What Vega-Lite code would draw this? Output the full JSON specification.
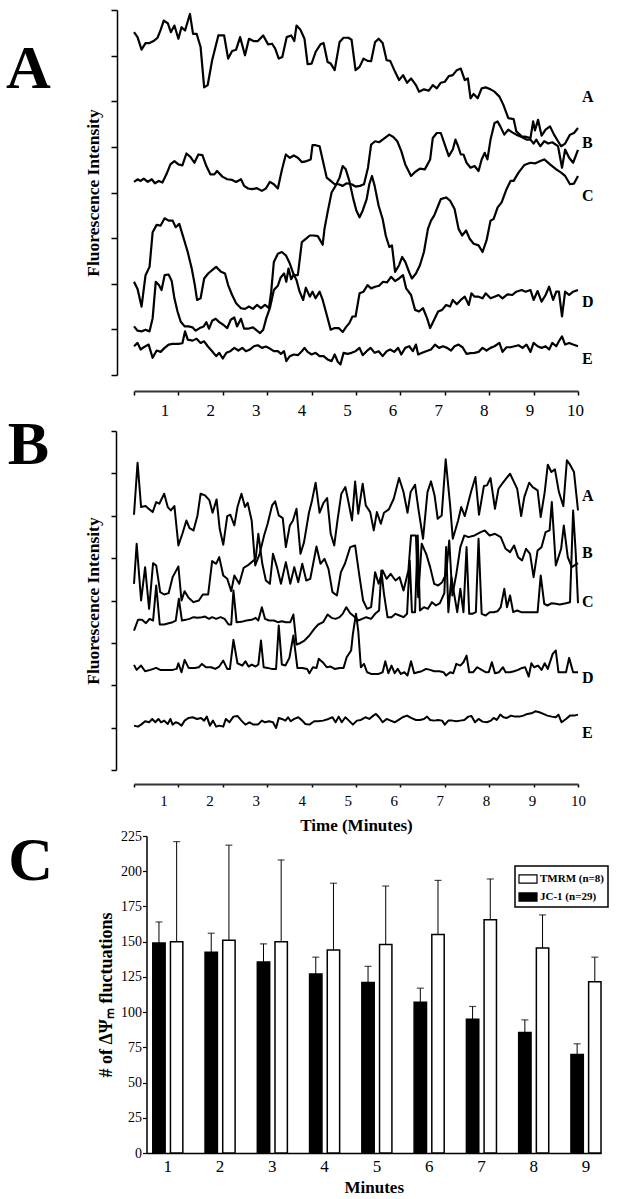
{
"$schema":"https://vega.github.io/schema/vega-lite/v6.json",
"background":"white",
"padding":{"left":6,"top":9,"right":0,"bottom":0},
"config":{"view":{"stroke":null},"font":"Liberation Serif",
 "axis":{"grid":false,"domainColor":"black","tickColor":"black","labelColor":"black","titleColor":"black","labelFont":"Liberation Serif","titleFont":"Liberation Serif"},
 "legend":{"strokeWidth":1.5}},
"datasets":{
"pa":[
{"s":"A","t":0,"v":1037},{"s":"A","t":0.08,"v":1022},{"s":"A","t":0.17,"v":984},{"s":"A","t":0.26,"v":1004},{"s":"A","t":0.35,"v":1004},{"s":"A","t":0.44,"v":1010},{"s":"A","t":0.53,"v":1020},{"s":"A","t":0.6,"v":1044},{"s":"A","t":0.67,"v":1072},{"s":"A","t":0.76,"v":1064},{"s":"A","t":0.83,"v":1037},{"s":"A","t":0.91,"v":1057},{"s":"A","t":1.0,"v":1017},{"s":"A","t":1.07,"v":1052},{"s":"A","t":1.15,"v":1042},{"s":"A","t":1.26,"v":1092},{"s":"A","t":1.33,"v":1032},{"s":"A","t":1.41,"v":1032},{"s":"A","t":1.5,"v":992},{"s":"A","t":1.58,"v":870},{"s":"A","t":1.66,"v":877},{"s":"A","t":1.76,"v":952},{"s":"A","t":1.9,"v":1027},{"s":"A","t":2.03,"v":1027},{"s":"A","t":2.12,"v":957},{"s":"A","t":2.21,"v":980},{"s":"A","t":2.3,"v":984},{"s":"A","t":2.39,"v":1022},{"s":"A","t":2.5,"v":967},{"s":"A","t":2.59,"v":1017},{"s":"A","t":2.69,"v":1010},{"s":"A","t":2.79,"v":1010},{"s":"A","t":2.91,"v":1027},{"s":"A","t":3.02,"v":1000},{"s":"A","t":3.11,"v":1002},{"s":"A","t":3.18,"v":987},{"s":"A","t":3.26,"v":957},{"s":"A","t":3.34,"v":962},{"s":"A","t":3.44,"v":1022},{"s":"A","t":3.54,"v":1027},{"s":"A","t":3.61,"v":1010},{"s":"A","t":3.66,"v":1057},{"s":"A","t":3.75,"v":1044},{"s":"A","t":3.84,"v":1017},{"s":"A","t":3.91,"v":940},{"s":"A","t":4.0,"v":942},{"s":"A","t":4.09,"v":977},{"s":"A","t":4.2,"v":1000},{"s":"A","t":4.27,"v":1004},{"s":"A","t":4.36,"v":947},{"s":"A","t":4.43,"v":942},{"s":"A","t":4.52,"v":922},{"s":"A","t":4.63,"v":1007},{"s":"A","t":4.72,"v":1020},{"s":"A","t":4.83,"v":1020},{"s":"A","t":4.9,"v":1014},{"s":"A","t":4.99,"v":922},{"s":"A","t":5.08,"v":932},{"s":"A","t":5.17,"v":957},{"s":"A","t":5.26,"v":950},{"s":"A","t":5.34,"v":949},{"s":"A","t":5.43,"v":1007},{"s":"A","t":5.51,"v":1017},{"s":"A","t":5.6,"v":1004},{"s":"A","t":5.69,"v":952},{"s":"A","t":5.77,"v":950},{"s":"A","t":5.88,"v":917},{"s":"A","t":5.97,"v":892},{"s":"A","t":6.06,"v":907},{"s":"A","t":6.15,"v":884},{"s":"A","t":6.24,"v":897},{"s":"A","t":6.35,"v":877},{"s":"A","t":6.42,"v":857},{"s":"A","t":6.53,"v":864},{"s":"A","t":6.64,"v":860},{"s":"A","t":6.73,"v":877},{"s":"A","t":6.82,"v":867},{"s":"A","t":6.91,"v":884},{"s":"A","t":7.0,"v":887},{"s":"A","t":7.09,"v":904},{"s":"A","t":7.18,"v":907},{"s":"A","t":7.27,"v":922},{"s":"A","t":7.36,"v":927},{"s":"A","t":7.45,"v":892},{"s":"A","t":7.52,"v":897},{"s":"A","t":7.58,"v":837},{"s":"A","t":7.65,"v":850},{"s":"A","t":7.74,"v":837},{"s":"A","t":7.83,"v":867},{"s":"A","t":7.92,"v":870},{"s":"A","t":8.03,"v":864},{"s":"A","t":8.12,"v":857},{"s":"A","t":8.23,"v":842},{"s":"A","t":8.32,"v":817},{"s":"A","t":8.43,"v":777},{"s":"A","t":8.55,"v":774},{"s":"A","t":8.61,"v":737},{"s":"A","t":8.73,"v":722},{"s":"A","t":8.84,"v":720},{"s":"A","t":8.93,"v":717},{"s":"A","t":8.99,"v":767},{"s":"A","t":9.03,"v":740},{"s":"A","t":9.1,"v":772},{"s":"A","t":9.18,"v":724},{"s":"A","t":9.27,"v":742},{"s":"A","t":9.37,"v":752},{"s":"A","t":9.46,"v":727},{"s":"A","t":9.55,"v":707},{"s":"A","t":9.62,"v":692},{"s":"A","t":9.71,"v":700},{"s":"A","t":9.82,"v":727},{"s":"A","t":9.91,"v":732},{"s":"A","t":10,"v":747},
{"s":"B","t":0,"v":584},{"s":"B","t":0.08,"v":592},{"s":"B","t":0.15,"v":587},{"s":"B","t":0.22,"v":594},{"s":"B","t":0.31,"v":584},{"s":"B","t":0.4,"v":592},{"s":"B","t":0.47,"v":580},{"s":"B","t":0.56,"v":587},{"s":"B","t":0.64,"v":582},{"s":"B","t":0.73,"v":607},{"s":"B","t":0.82,"v":637},{"s":"B","t":0.91,"v":647},{"s":"B","t":1.0,"v":637},{"s":"B","t":1.09,"v":634},{"s":"B","t":1.18,"v":670},{"s":"B","t":1.27,"v":660},{"s":"B","t":1.36,"v":642},{"s":"B","t":1.45,"v":667},{"s":"B","t":1.54,"v":665},{"s":"B","t":1.63,"v":632},{"s":"B","t":1.72,"v":607},{"s":"B","t":1.81,"v":607},{"s":"B","t":1.87,"v":617},{"s":"B","t":1.99,"v":600},{"s":"B","t":2.1,"v":592},{"s":"B","t":2.21,"v":590},{"s":"B","t":2.3,"v":584},{"s":"B","t":2.41,"v":592},{"s":"B","t":2.48,"v":572},{"s":"B","t":2.57,"v":564},{"s":"B","t":2.66,"v":562},{"s":"B","t":2.77,"v":565},{"s":"B","t":2.88,"v":557},{"s":"B","t":2.97,"v":564},{"s":"B","t":3.06,"v":584},{"s":"B","t":3.15,"v":577},{"s":"B","t":3.24,"v":564},{"s":"B","t":3.33,"v":620},{"s":"B","t":3.42,"v":667},{"s":"B","t":3.51,"v":657},{"s":"B","t":3.6,"v":664},{"s":"B","t":3.69,"v":657},{"s":"B","t":3.78,"v":644},{"s":"B","t":3.89,"v":647},{"s":"B","t":3.98,"v":652},{"s":"B","t":4.02,"v":695},{"s":"B","t":4.09,"v":695},{"s":"B","t":4.18,"v":692},{"s":"B","t":4.25,"v":650},{"s":"B","t":4.34,"v":597},{"s":"B","t":4.43,"v":587},{"s":"B","t":4.52,"v":577},{"s":"B","t":4.61,"v":577},{"s":"B","t":4.7,"v":572},{"s":"B","t":4.79,"v":580},{"s":"B","t":4.9,"v":577},{"s":"B","t":4.99,"v":570},{"s":"B","t":5.09,"v":572},{"s":"B","t":5.18,"v":577},{"s":"B","t":5.27,"v":627},{"s":"B","t":5.34,"v":697},{"s":"B","t":5.43,"v":707},{"s":"B","t":5.52,"v":704},{"s":"B","t":5.6,"v":712},{"s":"B","t":5.75,"v":727},{"s":"B","t":5.84,"v":720},{"s":"B","t":5.93,"v":707},{"s":"B","t":6.02,"v":677},{"s":"B","t":6.11,"v":637},{"s":"B","t":6.24,"v":602},{"s":"B","t":6.33,"v":614},{"s":"B","t":6.44,"v":624},{"s":"B","t":6.55,"v":622},{"s":"B","t":6.67,"v":652},{"s":"B","t":6.73,"v":717},{"s":"B","t":6.82,"v":732},{"s":"B","t":6.91,"v":732},{"s":"B","t":7.0,"v":697},{"s":"B","t":7.09,"v":662},{"s":"B","t":7.18,"v":682},{"s":"B","t":7.24,"v":712},{"s":"B","t":7.3,"v":692},{"s":"B","t":7.36,"v":667},{"s":"B","t":7.42,"v":667},{"s":"B","t":7.49,"v":642},{"s":"B","t":7.58,"v":627},{"s":"B","t":7.67,"v":632},{"s":"B","t":7.76,"v":617},{"s":"B","t":7.83,"v":652},{"s":"B","t":7.9,"v":672},{"s":"B","t":7.96,"v":652},{"s":"B","t":8.03,"v":712},{"s":"B","t":8.12,"v":762},{"s":"B","t":8.19,"v":767},{"s":"B","t":8.25,"v":752},{"s":"B","t":8.34,"v":727},{"s":"B","t":8.43,"v":742},{"s":"B","t":8.52,"v":734},{"s":"B","t":8.61,"v":727},{"s":"B","t":8.73,"v":720},{"s":"B","t":8.84,"v":712},{"s":"B","t":8.93,"v":712},{"s":"B","t":9.0,"v":700},{"s":"B","t":9.06,"v":712},{"s":"B","t":9.15,"v":692},{"s":"B","t":9.24,"v":707},{"s":"B","t":9.33,"v":700},{"s":"B","t":9.42,"v":704},{"s":"B","t":9.55,"v":692},{"s":"B","t":9.64,"v":627},{"s":"B","t":9.71,"v":682},{"s":"B","t":9.8,"v":657},{"s":"B","t":9.89,"v":642},{"s":"B","t":10,"v":681},
{"s":"C","t":0,"v":282},{"s":"C","t":0.08,"v":260},{"s":"C","t":0.17,"v":207},{"s":"C","t":0.26,"v":302},{"s":"C","t":0.35,"v":327},{"s":"C","t":0.42,"v":432},{"s":"C","t":0.51,"v":454},{"s":"C","t":0.6,"v":452},{"s":"C","t":0.69,"v":474},{"s":"C","t":0.78,"v":467},{"s":"C","t":0.87,"v":467},{"s":"C","t":0.94,"v":447},{"s":"C","t":1.02,"v":457},{"s":"C","t":1.11,"v":417},{"s":"C","t":1.21,"v":372},{"s":"C","t":1.3,"v":322},{"s":"C","t":1.37,"v":272},{"s":"C","t":1.42,"v":227},{"s":"C","t":1.5,"v":232},{"s":"C","t":1.58,"v":292},{"s":"C","t":1.67,"v":307},{"s":"C","t":1.76,"v":317},{"s":"C","t":1.85,"v":327},{"s":"C","t":1.96,"v":312},{"s":"C","t":2.05,"v":307},{"s":"C","t":2.12,"v":272},{"s":"C","t":2.21,"v":242},{"s":"C","t":2.3,"v":217},{"s":"C","t":2.41,"v":202},{"s":"C","t":2.5,"v":200},{"s":"C","t":2.59,"v":207},{"s":"C","t":2.68,"v":200},{"s":"C","t":2.77,"v":212},{"s":"C","t":2.86,"v":202},{"s":"C","t":2.95,"v":212},{"s":"C","t":3.04,"v":202},{"s":"C","t":3.09,"v":252},{"s":"C","t":3.15,"v":342},{"s":"C","t":3.24,"v":367},{"s":"C","t":3.33,"v":372},{"s":"C","t":3.42,"v":362},{"s":"C","t":3.51,"v":337},{"s":"C","t":3.6,"v":302},{"s":"C","t":3.69,"v":302},{"s":"C","t":3.78,"v":402},{"s":"C","t":3.87,"v":412},{"s":"C","t":3.96,"v":422},{"s":"C","t":4.05,"v":422},{"s":"C","t":4.14,"v":420},{"s":"C","t":4.25,"v":394},{"s":"C","t":4.29,"v":442},{"s":"C","t":4.36,"v":492},{"s":"C","t":4.45,"v":552},{"s":"C","t":4.54,"v":572},{"s":"C","t":4.63,"v":597},{"s":"C","t":4.7,"v":632},{"s":"C","t":4.77,"v":622},{"s":"C","t":4.85,"v":587},{"s":"C","t":4.94,"v":532},{"s":"C","t":5.01,"v":497},{"s":"C","t":5.08,"v":477},{"s":"C","t":5.15,"v":497},{"s":"C","t":5.24,"v":532},{"s":"C","t":5.3,"v":577},{"s":"C","t":5.36,"v":602},{"s":"C","t":5.42,"v":572},{"s":"C","t":5.51,"v":512},{"s":"C","t":5.6,"v":472},{"s":"C","t":5.67,"v":422},{"s":"C","t":5.75,"v":387},{"s":"C","t":5.81,"v":392},{"s":"C","t":5.88,"v":312},{"s":"C","t":5.97,"v":332},{"s":"C","t":6.04,"v":357},{"s":"C","t":6.11,"v":342},{"s":"C","t":6.2,"v":310},{"s":"C","t":6.26,"v":292},{"s":"C","t":6.35,"v":307},{"s":"C","t":6.44,"v":332},{"s":"C","t":6.53,"v":372},{"s":"C","t":6.62,"v":442},{"s":"C","t":6.69,"v":467},{"s":"C","t":6.76,"v":482},{"s":"C","t":6.85,"v":512},{"s":"C","t":6.91,"v":532},{"s":"C","t":7.03,"v":537},{"s":"C","t":7.12,"v":527},{"s":"C","t":7.22,"v":502},{"s":"C","t":7.31,"v":442},{"s":"C","t":7.39,"v":422},{"s":"C","t":7.48,"v":437},{"s":"C","t":7.56,"v":412},{"s":"C","t":7.65,"v":397},{"s":"C","t":7.76,"v":392},{"s":"C","t":7.85,"v":372},{"s":"C","t":7.94,"v":407},{"s":"C","t":8.03,"v":467},{"s":"C","t":8.1,"v":472},{"s":"C","t":8.19,"v":507},{"s":"C","t":8.28,"v":522},{"s":"C","t":8.39,"v":562},{"s":"C","t":8.48,"v":587},{"s":"C","t":8.55,"v":587},{"s":"C","t":8.66,"v":612},{"s":"C","t":8.79,"v":635},{"s":"C","t":8.93,"v":642},{"s":"C","t":9.03,"v":640},{"s":"C","t":9.15,"v":647},{"s":"C","t":9.24,"v":652},{"s":"C","t":9.37,"v":637},{"s":"C","t":9.51,"v":622},{"s":"C","t":9.62,"v":612},{"s":"C","t":9.71,"v":602},{"s":"C","t":9.82,"v":577},{"s":"C","t":9.91,"v":579},{"s":"C","t":10,"v":602},
{"s":"D","t":0,"v":147},{"s":"D","t":0.08,"v":134},{"s":"D","t":0.17,"v":132},{"s":"D","t":0.26,"v":137},{"s":"D","t":0.35,"v":132},{"s":"D","t":0.42,"v":172},{"s":"D","t":0.49,"v":282},{"s":"D","t":0.56,"v":272},{"s":"D","t":0.62,"v":257},{"s":"D","t":0.69,"v":302},{"s":"D","t":0.78,"v":304},{"s":"D","t":0.85,"v":284},{"s":"D","t":0.91,"v":232},{"s":"D","t":0.98,"v":192},{"s":"D","t":1.05,"v":162},{"s":"D","t":1.14,"v":147},{"s":"D","t":1.23,"v":147},{"s":"D","t":1.32,"v":144},{"s":"D","t":1.39,"v":134},{"s":"D","t":1.48,"v":142},{"s":"D","t":1.57,"v":147},{"s":"D","t":1.63,"v":160},{"s":"D","t":1.69,"v":140},{"s":"D","t":1.76,"v":164},{"s":"D","t":1.84,"v":170},{"s":"D","t":1.92,"v":160},{"s":"D","t":2.01,"v":152},{"s":"D","t":2.1,"v":142},{"s":"D","t":2.18,"v":167},{"s":"D","t":2.26,"v":174},{"s":"D","t":2.32,"v":147},{"s":"D","t":2.41,"v":170},{"s":"D","t":2.48,"v":140},{"s":"D","t":2.57,"v":140},{"s":"D","t":2.68,"v":144},{"s":"D","t":2.77,"v":134},{"s":"D","t":2.84,"v":127},{"s":"D","t":2.91,"v":137},{"s":"D","t":2.98,"v":172},{"s":"D","t":3.06,"v":202},{"s":"D","t":3.15,"v":257},{"s":"D","t":3.24,"v":270},{"s":"D","t":3.3,"v":294},{"s":"D","t":3.38,"v":307},{"s":"D","t":3.43,"v":282},{"s":"D","t":3.48,"v":322},{"s":"D","t":3.54,"v":290},{"s":"D","t":3.6,"v":304},{"s":"D","t":3.66,"v":287},{"s":"D","t":3.73,"v":252},{"s":"D","t":3.81,"v":227},{"s":"D","t":3.87,"v":264},{"s":"D","t":3.96,"v":237},{"s":"D","t":4.02,"v":252},{"s":"D","t":4.09,"v":232},{"s":"D","t":4.18,"v":252},{"s":"D","t":4.25,"v":227},{"s":"D","t":4.34,"v":182},{"s":"D","t":4.43,"v":137},{"s":"D","t":4.52,"v":142},{"s":"D","t":4.61,"v":142},{"s":"D","t":4.7,"v":130},{"s":"D","t":4.77,"v":144},{"s":"D","t":4.85,"v":157},{"s":"D","t":4.92,"v":177},{"s":"D","t":4.99,"v":177},{"s":"D","t":5.08,"v":247},{"s":"D","t":5.17,"v":252},{"s":"D","t":5.26,"v":272},{"s":"D","t":5.34,"v":262},{"s":"D","t":5.43,"v":267},{"s":"D","t":5.52,"v":270},{"s":"D","t":5.61,"v":282},{"s":"D","t":5.7,"v":280},{"s":"D","t":5.79,"v":297},{"s":"D","t":5.88,"v":284},{"s":"D","t":5.97,"v":292},{"s":"D","t":6.06,"v":302},{"s":"D","t":6.13,"v":262},{"s":"D","t":6.24,"v":242},{"s":"D","t":6.33,"v":197},{"s":"D","t":6.42,"v":192},{"s":"D","t":6.51,"v":202},{"s":"D","t":6.6,"v":172},{"s":"D","t":6.67,"v":142},{"s":"D","t":6.76,"v":167},{"s":"D","t":6.85,"v":192},{"s":"D","t":6.94,"v":197},{"s":"D","t":7.03,"v":212},{"s":"D","t":7.12,"v":207},{"s":"D","t":7.18,"v":227},{"s":"D","t":7.27,"v":214},{"s":"D","t":7.36,"v":227},{"s":"D","t":7.45,"v":237},{"s":"D","t":7.54,"v":212},{"s":"D","t":7.6,"v":247},{"s":"D","t":7.67,"v":237},{"s":"D","t":7.76,"v":237},{"s":"D","t":7.85,"v":232},{"s":"D","t":7.92,"v":247},{"s":"D","t":8.03,"v":232},{"s":"D","t":8.12,"v":237},{"s":"D","t":8.21,"v":242},{"s":"D","t":8.3,"v":232},{"s":"D","t":8.41,"v":244},{"s":"D","t":8.52,"v":242},{"s":"D","t":8.61,"v":252},{"s":"D","t":8.73,"v":257},{"s":"D","t":8.82,"v":252},{"s":"D","t":8.93,"v":257},{"s":"D","t":9.0,"v":227},{"s":"D","t":9.09,"v":254},{"s":"D","t":9.18,"v":222},{"s":"D","t":9.27,"v":242},{"s":"D","t":9.35,"v":267},{"s":"D","t":9.44,"v":227},{"s":"D","t":9.51,"v":252},{"s":"D","t":9.57,"v":252},{"s":"D","t":9.64,"v":177},{"s":"D","t":9.71,"v":252},{"s":"D","t":9.8,"v":242},{"s":"D","t":9.89,"v":252},{"s":"D","t":10,"v":257},
{"s":"E","t":0,"v":87},{"s":"E","t":0.08,"v":97},{"s":"E","t":0.15,"v":77},{"s":"E","t":0.22,"v":84},{"s":"E","t":0.33,"v":92},{"s":"E","t":0.42,"v":52},{"s":"E","t":0.51,"v":74},{"s":"E","t":0.6,"v":70},{"s":"E","t":0.69,"v":82},{"s":"E","t":0.78,"v":92},{"s":"E","t":0.87,"v":94},{"s":"E","t":1.0,"v":94},{"s":"E","t":1.09,"v":96},{"s":"E","t":1.15,"v":132},{"s":"E","t":1.21,"v":107},{"s":"E","t":1.32,"v":104},{"s":"E","t":1.41,"v":110},{"s":"E","t":1.5,"v":97},{"s":"E","t":1.58,"v":102},{"s":"E","t":1.66,"v":87},{"s":"E","t":1.76,"v":72},{"s":"E","t":1.85,"v":57},{"s":"E","t":1.92,"v":67},{"s":"E","t":2.0,"v":50},{"s":"E","t":2.08,"v":67},{"s":"E","t":2.17,"v":72},{"s":"E","t":2.26,"v":82},{"s":"E","t":2.35,"v":74},{"s":"E","t":2.44,"v":82},{"s":"E","t":2.52,"v":72},{"s":"E","t":2.61,"v":77},{"s":"E","t":2.7,"v":87},{"s":"E","t":2.79,"v":90},{"s":"E","t":2.88,"v":82},{"s":"E","t":2.97,"v":86},{"s":"E","t":3.06,"v":80},{"s":"E","t":3.15,"v":72},{"s":"E","t":3.24,"v":72},{"s":"E","t":3.31,"v":64},{"s":"E","t":3.38,"v":72},{"s":"E","t":3.43,"v":42},{"s":"E","t":3.51,"v":57},{"s":"E","t":3.6,"v":62},{"s":"E","t":3.69,"v":60},{"s":"E","t":3.78,"v":72},{"s":"E","t":3.84,"v":82},{"s":"E","t":3.91,"v":70},{"s":"E","t":4.0,"v":62},{"s":"E","t":4.09,"v":67},{"s":"E","t":4.18,"v":57},{"s":"E","t":4.27,"v":57},{"s":"E","t":4.36,"v":47},{"s":"E","t":4.45,"v":42},{"s":"E","t":4.52,"v":62},{"s":"E","t":4.59,"v":40},{"s":"E","t":4.65,"v":32},{"s":"E","t":4.72,"v":67},{"s":"E","t":4.81,"v":64},{"s":"E","t":4.9,"v":67},{"s":"E","t":4.99,"v":72},{"s":"E","t":5.08,"v":82},{"s":"E","t":5.15,"v":60},{"s":"E","t":5.24,"v":72},{"s":"E","t":5.33,"v":82},{"s":"E","t":5.42,"v":67},{"s":"E","t":5.51,"v":72},{"s":"E","t":5.6,"v":57},{"s":"E","t":5.69,"v":72},{"s":"E","t":5.77,"v":77},{"s":"E","t":5.86,"v":70},{"s":"E","t":5.95,"v":82},{"s":"E","t":6.02,"v":62},{"s":"E","t":6.11,"v":82},{"s":"E","t":6.2,"v":87},{"s":"E","t":6.28,"v":72},{"s":"E","t":6.35,"v":92},{"s":"E","t":6.4,"v":62},{"s":"E","t":6.49,"v":67},{"s":"E","t":6.58,"v":72},{"s":"E","t":6.69,"v":77},{"s":"E","t":6.78,"v":92},{"s":"E","t":6.87,"v":82},{"s":"E","t":6.96,"v":87},{"s":"E","t":7.05,"v":82},{"s":"E","t":7.14,"v":74},{"s":"E","t":7.22,"v":87},{"s":"E","t":7.31,"v":92},{"s":"E","t":7.4,"v":84},{"s":"E","t":7.49,"v":64},{"s":"E","t":7.58,"v":66},{"s":"E","t":7.67,"v":67},{"s":"E","t":7.76,"v":70},{"s":"E","t":7.85,"v":82},{"s":"E","t":7.94,"v":74},{"s":"E","t":8.03,"v":82},{"s":"E","t":8.12,"v":87},{"s":"E","t":8.23,"v":97},{"s":"E","t":8.3,"v":70},{"s":"E","t":8.39,"v":84},{"s":"E","t":8.48,"v":84},{"s":"E","t":8.57,"v":87},{"s":"E","t":8.66,"v":90},{"s":"E","t":8.75,"v":82},{"s":"E","t":8.84,"v":92},{"s":"E","t":8.93,"v":70},{"s":"E","t":9.0,"v":97},{"s":"E","t":9.09,"v":87},{"s":"E","t":9.18,"v":82},{"s":"E","t":9.27,"v":87},{"s":"E","t":9.35,"v":77},{"s":"E","t":9.42,"v":97},{"s":"E","t":9.51,"v":87},{"s":"E","t":9.57,"v":102},{"s":"E","t":9.64,"v":117},{"s":"E","t":9.71,"v":92},{"s":"E","t":9.8,"v":97},{"s":"E","t":9.89,"v":92},{"s":"E","t":10,"v":87}
],
"pb":[
{"s":"A","t":0,"v":765},{"s":"A","t":0.08,"v":921},{"s":"A","t":0.16,"v":788},{"s":"A","t":0.26,"v":791},{"s":"A","t":0.33,"v":783},{"s":"A","t":0.42,"v":773},{"s":"A","t":0.5,"v":803},{"s":"A","t":0.57,"v":798},{"s":"A","t":0.68,"v":828},{"s":"A","t":0.76,"v":788},{"s":"A","t":0.83,"v":778},{"s":"A","t":0.91,"v":791},{"s":"A","t":1.0,"v":673},{"s":"A","t":1.09,"v":708},{"s":"A","t":1.18,"v":748},{"s":"A","t":1.25,"v":725},{"s":"A","t":1.34,"v":718},{"s":"A","t":1.43,"v":763},{"s":"A","t":1.5,"v":828},{"s":"A","t":1.6,"v":823},{"s":"A","t":1.7,"v":808},{"s":"A","t":1.77,"v":771},{"s":"A","t":1.86,"v":811},{"s":"A","t":1.93,"v":723},{"s":"A","t":2.01,"v":675},{"s":"A","t":2.1,"v":761},{"s":"A","t":2.17,"v":765},{"s":"A","t":2.26,"v":733},{"s":"A","t":2.33,"v":788},{"s":"A","t":2.42,"v":828},{"s":"A","t":2.5,"v":788},{"s":"A","t":2.56,"v":801},{"s":"A","t":2.65,"v":748},{"s":"A","t":2.73,"v":613},{"s":"A","t":2.83,"v":648},{"s":"A","t":2.93,"v":703},{"s":"A","t":3.01,"v":738},{"s":"A","t":3.11,"v":793},{"s":"A","t":3.18,"v":805},{"s":"A","t":3.26,"v":763},{"s":"A","t":3.35,"v":755},{"s":"A","t":3.42,"v":668},{"s":"A","t":3.51,"v":733},{"s":"A","t":3.58,"v":748},{"s":"A","t":3.66,"v":783},{"s":"A","t":3.75,"v":648},{"s":"A","t":3.83,"v":683},{"s":"A","t":3.94,"v":771},{"s":"A","t":4.01,"v":808},{"s":"A","t":4.09,"v":861},{"s":"A","t":4.18,"v":771},{"s":"A","t":4.27,"v":801},{"s":"A","t":4.35,"v":815},{"s":"A","t":4.43,"v":708},{"s":"A","t":4.51,"v":673},{"s":"A","t":4.58,"v":745},{"s":"A","t":4.67,"v":828},{"s":"A","t":4.76,"v":848},{"s":"A","t":4.83,"v":803},{"s":"A","t":4.91,"v":748},{"s":"A","t":4.98,"v":865},{"s":"A","t":5.05,"v":768},{"s":"A","t":5.15,"v":858},{"s":"A","t":5.22,"v":793},{"s":"A","t":5.32,"v":773},{"s":"A","t":5.4,"v":718},{"s":"A","t":5.47,"v":773},{"s":"A","t":5.56,"v":738},{"s":"A","t":5.63,"v":771},{"s":"A","t":5.74,"v":781},{"s":"A","t":5.85,"v":813},{"s":"A","t":5.97,"v":875},{"s":"A","t":6.07,"v":833},{"s":"A","t":6.16,"v":771},{"s":"A","t":6.23,"v":833},{"s":"A","t":6.33,"v":855},{"s":"A","t":6.41,"v":778},{"s":"A","t":6.51,"v":693},{"s":"A","t":6.61,"v":833},{"s":"A","t":6.69,"v":865},{"s":"A","t":6.77,"v":823},{"s":"A","t":6.84,"v":753},{"s":"A","t":6.93,"v":763},{"s":"A","t":7.02,"v":931},{"s":"A","t":7.12,"v":793},{"s":"A","t":7.18,"v":693},{"s":"A","t":7.3,"v":748},{"s":"A","t":7.37,"v":788},{"s":"A","t":7.45,"v":761},{"s":"A","t":7.59,"v":833},{"s":"A","t":7.69,"v":878},{"s":"A","t":7.77,"v":765},{"s":"A","t":7.88,"v":851},{"s":"A","t":7.95,"v":853},{"s":"A","t":8.03,"v":875},{"s":"A","t":8.13,"v":783},{"s":"A","t":8.21,"v":843},{"s":"A","t":8.31,"v":861},{"s":"A","t":8.38,"v":873},{"s":"A","t":8.47,"v":888},{"s":"A","t":8.54,"v":868},{"s":"A","t":8.63,"v":843},{"s":"A","t":8.72,"v":761},{"s":"A","t":8.79,"v":818},{"s":"A","t":8.9,"v":861},{"s":"A","t":8.98,"v":848},{"s":"A","t":9.09,"v":838},{"s":"A","t":9.16,"v":758},{"s":"A","t":9.25,"v":833},{"s":"A","t":9.32,"v":915},{"s":"A","t":9.4,"v":893},{"s":"A","t":9.48,"v":901},{"s":"A","t":9.57,"v":833},{"s":"A","t":9.67,"v":791},{"s":"A","t":9.75,"v":928},{"s":"A","t":9.82,"v":915},{"s":"A","t":9.91,"v":893},{"s":"A","t":10,"v":778},
{"s":"B","t":0,"v":558},{"s":"B","t":0.06,"v":678},{"s":"B","t":0.16,"v":508},{"s":"B","t":0.25,"v":608},{"s":"B","t":0.34,"v":483},{"s":"B","t":0.43,"v":620},{"s":"B","t":0.5,"v":613},{"s":"B","t":0.59,"v":533},{"s":"B","t":0.68,"v":526},{"s":"B","t":0.78,"v":530},{"s":"B","t":0.87,"v":578},{"s":"B","t":1.0,"v":610},{"s":"B","t":1.07,"v":508},{"s":"B","t":1.14,"v":536},{"s":"B","t":1.23,"v":516},{"s":"B","t":1.34,"v":503},{"s":"B","t":1.46,"v":508},{"s":"B","t":1.55,"v":526},{"s":"B","t":1.67,"v":526},{"s":"B","t":1.76,"v":626},{"s":"B","t":1.85,"v":618},{"s":"B","t":1.92,"v":638},{"s":"B","t":2.01,"v":583},{"s":"B","t":2.1,"v":573},{"s":"B","t":2.19,"v":536},{"s":"B","t":2.26,"v":583},{"s":"B","t":2.37,"v":558},{"s":"B","t":2.47,"v":606},{"s":"B","t":2.56,"v":613},{"s":"B","t":2.65,"v":623},{"s":"B","t":2.74,"v":633},{"s":"B","t":2.8,"v":708},{"s":"B","t":2.89,"v":618},{"s":"B","t":2.97,"v":568},{"s":"B","t":3.06,"v":558},{"s":"B","t":3.13,"v":648},{"s":"B","t":3.22,"v":608},{"s":"B","t":3.31,"v":558},{"s":"B","t":3.42,"v":623},{"s":"B","t":3.52,"v":558},{"s":"B","t":3.61,"v":608},{"s":"B","t":3.7,"v":563},{"s":"B","t":3.79,"v":618},{"s":"B","t":3.88,"v":568},{"s":"B","t":3.97,"v":573},{"s":"B","t":4.11,"v":670},{"s":"B","t":4.2,"v":618},{"s":"B","t":4.29,"v":633},{"s":"B","t":4.38,"v":603},{"s":"B","t":4.47,"v":533},{"s":"B","t":4.57,"v":523},{"s":"B","t":4.66,"v":593},{"s":"B","t":4.75,"v":618},{"s":"B","t":4.87,"v":668},{"s":"B","t":4.98,"v":673},{"s":"B","t":5.07,"v":588},{"s":"B","t":5.16,"v":508},{"s":"B","t":5.25,"v":483},{"s":"B","t":5.34,"v":488},{"s":"B","t":5.43,"v":593},{"s":"B","t":5.51,"v":558},{"s":"B","t":5.6,"v":598},{"s":"B","t":5.69,"v":573},{"s":"B","t":5.78,"v":588},{"s":"B","t":5.89,"v":568},{"s":"B","t":5.98,"v":578},{"s":"B","t":6.07,"v":538},{"s":"B","t":6.18,"v":598},{"s":"B","t":6.24,"v":703},{"s":"B","t":6.35,"v":703},{"s":"B","t":6.4,"v":518},{"s":"B","t":6.48,"v":678},{"s":"B","t":6.58,"v":648},{"s":"B","t":6.67,"v":608},{"s":"B","t":6.76,"v":558},{"s":"B","t":6.85,"v":553},{"s":"B","t":6.94,"v":563},{"s":"B","t":7.03,"v":588},{"s":"B","t":7.1,"v":688},{"s":"B","t":7.17,"v":523},{"s":"B","t":7.26,"v":588},{"s":"B","t":7.35,"v":668},{"s":"B","t":7.44,"v":703},{"s":"B","t":7.53,"v":698},{"s":"B","t":7.67,"v":703},{"s":"B","t":7.81,"v":713},{"s":"B","t":7.9,"v":718},{"s":"B","t":8.01,"v":703},{"s":"B","t":8.13,"v":708},{"s":"B","t":8.26,"v":698},{"s":"B","t":8.37,"v":663},{"s":"B","t":8.47,"v":653},{"s":"B","t":8.56,"v":673},{"s":"B","t":8.65,"v":638},{"s":"B","t":8.74,"v":628},{"s":"B","t":8.83,"v":663},{"s":"B","t":8.92,"v":648},{"s":"B","t":9.0,"v":578},{"s":"B","t":9.09,"v":658},{"s":"B","t":9.18,"v":668},{"s":"B","t":9.27,"v":713},{"s":"B","t":9.36,"v":718},{"s":"B","t":9.41,"v":803},{"s":"B","t":9.5,"v":613},{"s":"B","t":9.62,"v":663},{"s":"B","t":9.68,"v":733},{"s":"B","t":9.77,"v":638},{"s":"B","t":9.86,"v":608},{"s":"B","t":10,"v":620},
{"s":"C","t":0,"v":418},{"s":"C","t":0.09,"v":450},{"s":"C","t":0.18,"v":450},{"s":"C","t":0.27,"v":440},{"s":"C","t":0.35,"v":453},{"s":"C","t":0.43,"v":448},{"s":"C","t":0.5,"v":553},{"s":"C","t":0.58,"v":436},{"s":"C","t":0.68,"v":436},{"s":"C","t":0.78,"v":440},{"s":"C","t":0.87,"v":443},{"s":"C","t":0.94,"v":448},{"s":"C","t":1.01,"v":513},{"s":"C","t":1.08,"v":448},{"s":"C","t":1.16,"v":450},{"s":"C","t":1.25,"v":453},{"s":"C","t":1.34,"v":458},{"s":"C","t":1.43,"v":456},{"s":"C","t":1.53,"v":458},{"s":"C","t":1.6,"v":460},{"s":"C","t":1.69,"v":453},{"s":"C","t":1.76,"v":458},{"s":"C","t":1.85,"v":453},{"s":"C","t":1.95,"v":458},{"s":"C","t":2.04,"v":453},{"s":"C","t":2.13,"v":436},{"s":"C","t":2.19,"v":436},{"s":"C","t":2.24,"v":538},{"s":"C","t":2.31,"v":443},{"s":"C","t":2.42,"v":444},{"s":"C","t":2.53,"v":448},{"s":"C","t":2.65,"v":450},{"s":"C","t":2.74,"v":456},{"s":"C","t":2.8,"v":448},{"s":"C","t":2.88,"v":488},{"s":"C","t":2.95,"v":453},{"s":"C","t":3.04,"v":448},{"s":"C","t":3.15,"v":448},{"s":"C","t":3.24,"v":443},{"s":"C","t":3.33,"v":446},{"s":"C","t":3.42,"v":443},{"s":"C","t":3.52,"v":443},{"s":"C","t":3.59,"v":466},{"s":"C","t":3.66,"v":376},{"s":"C","t":3.74,"v":380},{"s":"C","t":3.84,"v":388},{"s":"C","t":3.95,"v":403},{"s":"C","t":4.06,"v":423},{"s":"C","t":4.15,"v":436},{"s":"C","t":4.26,"v":443},{"s":"C","t":4.36,"v":466},{"s":"C","t":4.45,"v":456},{"s":"C","t":4.54,"v":453},{"s":"C","t":4.63,"v":458},{"s":"C","t":4.7,"v":468},{"s":"C","t":4.78,"v":488},{"s":"C","t":4.87,"v":470},{"s":"C","t":4.96,"v":460},{"s":"C","t":5.05,"v":448},{"s":"C","t":5.14,"v":453},{"s":"C","t":5.23,"v":458},{"s":"C","t":5.34,"v":453},{"s":"C","t":5.43,"v":468},{"s":"C","t":5.52,"v":478},{"s":"C","t":5.57,"v":598},{"s":"C","t":5.63,"v":528},{"s":"C","t":5.71,"v":458},{"s":"C","t":5.8,"v":458},{"s":"C","t":5.89,"v":468},{"s":"C","t":5.98,"v":463},{"s":"C","t":6.07,"v":458},{"s":"C","t":6.15,"v":468},{"s":"C","t":6.21,"v":628},{"s":"C","t":6.26,"v":473},{"s":"C","t":6.33,"v":473},{"s":"C","t":6.39,"v":703},{"s":"C","t":6.44,"v":478},{"s":"C","t":6.53,"v":488},{"s":"C","t":6.62,"v":483},{"s":"C","t":6.71,"v":503},{"s":"C","t":6.8,"v":493},{"s":"C","t":6.89,"v":500},{"s":"C","t":6.99,"v":530},{"s":"C","t":7.03,"v":668},{"s":"C","t":7.08,"v":473},{"s":"C","t":7.15,"v":578},{"s":"C","t":7.21,"v":528},{"s":"C","t":7.28,"v":473},{"s":"C","t":7.35,"v":543},{"s":"C","t":7.42,"v":473},{"s":"C","t":7.49,"v":668},{"s":"C","t":7.55,"v":468},{"s":"C","t":7.62,"v":468},{"s":"C","t":7.7,"v":473},{"s":"C","t":7.76,"v":693},{"s":"C","t":7.83,"v":468},{"s":"C","t":7.92,"v":463},{"s":"C","t":8.01,"v":473},{"s":"C","t":8.1,"v":473},{"s":"C","t":8.19,"v":476},{"s":"C","t":8.26,"v":488},{"s":"C","t":8.34,"v":543},{"s":"C","t":8.4,"v":488},{"s":"C","t":8.47,"v":523},{"s":"C","t":8.54,"v":473},{"s":"C","t":8.63,"v":478},{"s":"C","t":8.72,"v":473},{"s":"C","t":8.81,"v":473},{"s":"C","t":8.9,"v":473},{"s":"C","t":9.0,"v":473},{"s":"C","t":9.09,"v":473},{"s":"C","t":9.16,"v":583},{"s":"C","t":9.24,"v":498},{"s":"C","t":9.31,"v":493},{"s":"C","t":9.41,"v":500},{"s":"C","t":9.5,"v":498},{"s":"C","t":9.59,"v":496},{"s":"C","t":9.73,"v":500},{"s":"C","t":9.82,"v":503},{"s":"C","t":9.89,"v":778},{"s":"C","t":9.95,"v":648},{"s":"C","t":10,"v":500},
{"s":"D","t":0,"v":315},{"s":"D","t":0.06,"v":300},{"s":"D","t":0.16,"v":313},{"s":"D","t":0.25,"v":296},{"s":"D","t":0.37,"v":300},{"s":"D","t":0.5,"v":306},{"s":"D","t":0.59,"v":300},{"s":"D","t":0.73,"v":300},{"s":"D","t":0.87,"v":300},{"s":"D","t":0.96,"v":303},{"s":"D","t":1.0,"v":320},{"s":"D","t":1.07,"v":293},{"s":"D","t":1.14,"v":330},{"s":"D","t":1.23,"v":306},{"s":"D","t":1.37,"v":306},{"s":"D","t":1.46,"v":308},{"s":"D","t":1.53,"v":318},{"s":"D","t":1.62,"v":308},{"s":"D","t":1.74,"v":308},{"s":"D","t":1.83,"v":303},{"s":"D","t":1.92,"v":310},{"s":"D","t":2.01,"v":328},{"s":"D","t":2.1,"v":303},{"s":"D","t":2.16,"v":303},{"s":"D","t":2.24,"v":390},{"s":"D","t":2.33,"v":320},{"s":"D","t":2.44,"v":313},{"s":"D","t":2.51,"v":326},{"s":"D","t":2.58,"v":310},{"s":"D","t":2.65,"v":316},{"s":"D","t":2.74,"v":310},{"s":"D","t":2.8,"v":316},{"s":"D","t":2.86,"v":388},{"s":"D","t":2.92,"v":308},{"s":"D","t":3.01,"v":306},{"s":"D","t":3.1,"v":303},{"s":"D","t":3.2,"v":303},{"s":"D","t":3.26,"v":433},{"s":"D","t":3.33,"v":316},{"s":"D","t":3.41,"v":313},{"s":"D","t":3.5,"v":336},{"s":"D","t":3.59,"v":403},{"s":"D","t":3.68,"v":306},{"s":"D","t":3.79,"v":306},{"s":"D","t":3.9,"v":303},{"s":"D","t":3.95,"v":290},{"s":"D","t":4.03,"v":308},{"s":"D","t":4.11,"v":306},{"s":"D","t":4.16,"v":333},{"s":"D","t":4.25,"v":323},{"s":"D","t":4.34,"v":308},{"s":"D","t":4.43,"v":310},{"s":"D","t":4.52,"v":303},{"s":"D","t":4.63,"v":306},{"s":"D","t":4.72,"v":306},{"s":"D","t":4.79,"v":338},{"s":"D","t":4.89,"v":358},{"s":"D","t":4.93,"v":408},{"s":"D","t":5.0,"v":468},{"s":"D","t":5.05,"v":418},{"s":"D","t":5.11,"v":308},{"s":"D","t":5.18,"v":318},{"s":"D","t":5.25,"v":293},{"s":"D","t":5.34,"v":288},{"s":"D","t":5.43,"v":288},{"s":"D","t":5.51,"v":288},{"s":"D","t":5.6,"v":293},{"s":"D","t":5.66,"v":326},{"s":"D","t":5.73,"v":290},{"s":"D","t":5.8,"v":313},{"s":"D","t":5.87,"v":290},{"s":"D","t":5.94,"v":303},{"s":"D","t":6.01,"v":288},{"s":"D","t":6.09,"v":293},{"s":"D","t":6.16,"v":283},{"s":"D","t":6.24,"v":326},{"s":"D","t":6.31,"v":290},{"s":"D","t":6.39,"v":293},{"s":"D","t":6.48,"v":296},{"s":"D","t":6.58,"v":303},{"s":"D","t":6.67,"v":300},{"s":"D","t":6.76,"v":296},{"s":"D","t":6.88,"v":296},{"s":"D","t":6.97,"v":293},{"s":"D","t":7.03,"v":283},{"s":"D","t":7.12,"v":293},{"s":"D","t":7.19,"v":290},{"s":"D","t":7.26,"v":318},{"s":"D","t":7.35,"v":313},{"s":"D","t":7.42,"v":323},{"s":"D","t":7.49,"v":343},{"s":"D","t":7.55,"v":293},{"s":"D","t":7.64,"v":293},{"s":"D","t":7.73,"v":308},{"s":"D","t":7.83,"v":300},{"s":"D","t":7.92,"v":293},{"s":"D","t":7.99,"v":293},{"s":"D","t":8.06,"v":323},{"s":"D","t":8.13,"v":290},{"s":"D","t":8.22,"v":293},{"s":"D","t":8.31,"v":308},{"s":"D","t":8.37,"v":293},{"s":"D","t":8.47,"v":293},{"s":"D","t":8.56,"v":296},{"s":"D","t":8.65,"v":300},{"s":"D","t":8.74,"v":306},{"s":"D","t":8.81,"v":308},{"s":"D","t":8.89,"v":280},{"s":"D","t":8.95,"v":320},{"s":"D","t":9.01,"v":308},{"s":"D","t":9.1,"v":313},{"s":"D","t":9.18,"v":300},{"s":"D","t":9.25,"v":320},{"s":"D","t":9.32,"v":303},{"s":"D","t":9.43,"v":348},{"s":"D","t":9.5,"v":358},{"s":"D","t":9.56,"v":293},{"s":"D","t":9.65,"v":293},{"s":"D","t":9.73,"v":293},{"s":"D","t":9.8,"v":336},{"s":"D","t":9.89,"v":293},{"s":"D","t":10,"v":293},
{"s":"E","t":0,"v":133},{"s":"E","t":0.09,"v":130},{"s":"E","t":0.16,"v":136},{"s":"E","t":0.25,"v":146},{"s":"E","t":0.34,"v":143},{"s":"E","t":0.41,"v":153},{"s":"E","t":0.48,"v":143},{"s":"E","t":0.55,"v":153},{"s":"E","t":0.61,"v":143},{"s":"E","t":0.68,"v":148},{"s":"E","t":0.76,"v":138},{"s":"E","t":0.82,"v":153},{"s":"E","t":0.87,"v":136},{"s":"E","t":0.94,"v":143},{"s":"E","t":1.0,"v":140},{"s":"E","t":1.07,"v":133},{"s":"E","t":1.14,"v":148},{"s":"E","t":1.23,"v":156},{"s":"E","t":1.32,"v":158},{"s":"E","t":1.42,"v":153},{"s":"E","t":1.51,"v":156},{"s":"E","t":1.58,"v":148},{"s":"E","t":1.64,"v":160},{"s":"E","t":1.71,"v":133},{"s":"E","t":1.78,"v":148},{"s":"E","t":1.85,"v":130},{"s":"E","t":1.92,"v":133},{"s":"E","t":2.01,"v":130},{"s":"E","t":2.07,"v":153},{"s":"E","t":2.15,"v":143},{"s":"E","t":2.24,"v":160},{"s":"E","t":2.33,"v":162},{"s":"E","t":2.42,"v":148},{"s":"E","t":2.51,"v":136},{"s":"E","t":2.6,"v":143},{"s":"E","t":2.69,"v":136},{"s":"E","t":2.79,"v":136},{"s":"E","t":2.88,"v":148},{"s":"E","t":2.95,"v":143},{"s":"E","t":3.04,"v":146},{"s":"E","t":3.13,"v":143},{"s":"E","t":3.2,"v":126},{"s":"E","t":3.26,"v":156},{"s":"E","t":3.33,"v":153},{"s":"E","t":3.41,"v":148},{"s":"E","t":3.47,"v":158},{"s":"E","t":3.53,"v":146},{"s":"E","t":3.61,"v":153},{"s":"E","t":3.7,"v":158},{"s":"E","t":3.79,"v":148},{"s":"E","t":3.86,"v":138},{"s":"E","t":3.95,"v":136},{"s":"E","t":4.06,"v":146},{"s":"E","t":4.15,"v":146},{"s":"E","t":4.26,"v":148},{"s":"E","t":4.38,"v":153},{"s":"E","t":4.47,"v":158},{"s":"E","t":4.54,"v":143},{"s":"E","t":4.61,"v":160},{"s":"E","t":4.68,"v":143},{"s":"E","t":4.76,"v":158},{"s":"E","t":4.84,"v":148},{"s":"E","t":4.93,"v":136},{"s":"E","t":5.02,"v":148},{"s":"E","t":5.11,"v":150},{"s":"E","t":5.21,"v":158},{"s":"E","t":5.3,"v":153},{"s":"E","t":5.39,"v":163},{"s":"E","t":5.45,"v":168},{"s":"E","t":5.52,"v":158},{"s":"E","t":5.6,"v":143},{"s":"E","t":5.69,"v":153},{"s":"E","t":5.78,"v":148},{"s":"E","t":5.87,"v":143},{"s":"E","t":5.96,"v":150},{"s":"E","t":6.05,"v":158},{"s":"E","t":6.15,"v":163},{"s":"E","t":6.24,"v":156},{"s":"E","t":6.35,"v":150},{"s":"E","t":6.44,"v":150},{"s":"E","t":6.53,"v":153},{"s":"E","t":6.6,"v":160},{"s":"E","t":6.67,"v":150},{"s":"E","t":6.76,"v":148},{"s":"E","t":6.85,"v":150},{"s":"E","t":6.94,"v":148},{"s":"E","t":7.0,"v":136},{"s":"E","t":7.08,"v":148},{"s":"E","t":7.17,"v":148},{"s":"E","t":7.26,"v":146},{"s":"E","t":7.35,"v":148},{"s":"E","t":7.44,"v":150},{"s":"E","t":7.53,"v":160},{"s":"E","t":7.6,"v":162},{"s":"E","t":7.68,"v":143},{"s":"E","t":7.76,"v":153},{"s":"E","t":7.85,"v":145},{"s":"E","t":7.95,"v":143},{"s":"E","t":8.04,"v":148},{"s":"E","t":8.1,"v":156},{"s":"E","t":8.17,"v":150},{"s":"E","t":8.25,"v":166},{"s":"E","t":8.32,"v":158},{"s":"E","t":8.4,"v":156},{"s":"E","t":8.49,"v":163},{"s":"E","t":8.58,"v":160},{"s":"E","t":8.68,"v":160},{"s":"E","t":8.77,"v":163},{"s":"E","t":8.86,"v":168},{"s":"E","t":8.95,"v":170},{"s":"E","t":9.04,"v":176},{"s":"E","t":9.13,"v":173},{"s":"E","t":9.22,"v":168},{"s":"E","t":9.31,"v":163},{"s":"E","t":9.41,"v":160},{"s":"E","t":9.5,"v":158},{"s":"E","t":9.56,"v":166},{"s":"E","t":9.63,"v":143},{"s":"E","t":9.73,"v":153},{"s":"E","t":9.82,"v":163},{"s":"E","t":9.91,"v":163},{"s":"E","t":10,"v":166}
],
"pc":[
{"m":1,"g":"JC-1 (n=29)","val":149,"upper":164},{"m":1,"g":"TMRM (n=8)","val":150,"upper":221},
{"m":2,"g":"JC-1 (n=29)","val":142.5,"upper":156},{"m":2,"g":"TMRM (n=8)","val":151,"upper":218.5},
{"m":3,"g":"JC-1 (n=29)","val":135.5,"upper":148.5},{"m":3,"g":"TMRM (n=8)","val":150,"upper":208},
{"m":4,"g":"JC-1 (n=29)","val":127,"upper":139},{"m":4,"g":"TMRM (n=8)","val":144,"upper":191.5},
{"m":5,"g":"JC-1 (n=29)","val":121,"upper":132.5},{"m":5,"g":"TMRM (n=8)","val":148,"upper":189.5},
{"m":6,"g":"JC-1 (n=29)","val":107,"upper":117},{"m":6,"g":"TMRM (n=8)","val":155,"upper":193.5},
{"m":7,"g":"JC-1 (n=29)","val":95,"upper":104},{"m":7,"g":"TMRM (n=8)","val":165.5,"upper":194.5},
{"m":8,"g":"JC-1 (n=29)","val":85.5,"upper":94.5},{"m":8,"g":"TMRM (n=8)","val":145.5,"upper":169},
{"m":9,"g":"JC-1 (n=29)","val":70,"upper":77.5},{"m":9,"g":"TMRM (n=8)","val":121.5,"upper":139}
]},
"concat":[
{
"width":444,"height":365,
"title":{"text":"A","orient":"left","anchor":"end","frame":"group","angle":0,"align":"right","baseline":"alphabetic","offset":-11.3,"dy":78,"fontSize":62,"fontWeight":"bold","font":"Liberation Serif","color":"black"},
"layer":[
{"data":{"name":"pa"},"mark":{"type":"line","color":"black","strokeWidth":2.2,"strokeJoin":"round"},
"encoding":{
"x":{"field":"t","type":"quantitative","scale":{"domain":[0,10],"nice":false,"zero":false},
"axis":{"title":null,"offset":16,"values":[0,1,2,3,4,5,6,7,8,9,10],"labelExpr":"datum.value == 0 ? '' : datum.label","labelOffset":{"expr":"-15 + 1.2*datum.value"},"tickSize":4,"tickWidth":1.5,"domainWidth":2,"domainColor":"#333","labelFontSize":17,"labelPadding":7,"labelFlush":false,"labelOverlap":false}},
"y":{"field":"v","type":"quantitative","scale":{"domain":[0,1104],"nice":false,"zero":false},
"axis":{"title":"Fluorescence Intensity","titleFontSize":17.5,"titleFontWeight":"bold","titlePadding":8,"offset":17,"values":[0,138,276,414,552,690,828,966,1104],"labels":false,"tickSize":6,"tickWidth":1.5,"domainWidth":1.5}},
"detail":{"field":"s","type":"nominal"}}},
{"data":{"values":[{"s":"A","t":10,"v":842},{"s":"B","t":10,"v":702},{"s":"C","t":10,"v":540},{"s":"D","t":10,"v":222},{"s":"E","t":10,"v":47}]},
"mark":{"type":"text","align":"left","baseline":"middle","dx":4,"fontSize":16,"fontWeight":"bold","font":"Liberation Serif","color":"black"},
"encoding":{"x":{"field":"t","type":"quantitative"},"y":{"field":"v","type":"quantitative"},"text":{"field":"s","type":"nominal"}}}
]
},
{
"width":444,"height":339,
"title":{"text":"B","orient":"left","anchor":"end","frame":"group","angle":0,"align":"right","baseline":"alphabetic","offset":-6.3,"dy":33.3,"fontSize":62,"fontWeight":"bold","font":"Liberation Serif","color":"black"},
"layer":[
{"data":{"name":"pb"},"mark":{"type":"line","color":"black","strokeWidth":2,"strokeJoin":"round"},
"encoding":{
"x":{"field":"t","type":"quantitative","scale":{"domain":[0,10],"nice":false,"zero":false},
"axis":{"title":"Time (Minutes)","titleFontSize":17,"titleFontWeight":"bold","titlePadding":9,"offset":14,"values":[0,1,2,3,4,5,6,7,8,9,10],"labelExpr":"datum.value == 0 ? '' : datum.label","labelOffset":{"expr":"-16.5 + 1.65*datum.value"},"tickSize":3,"tickWidth":1.5,"domainWidth":2,"domainColor":"#333","labelFontSize":15,"labelPadding":6,"labelFlush":false,"labelOverlap":false}},
"y":{"field":"v","type":"quantitative","scale":{"domain":[0,1016],"nice":false,"zero":false},
"axis":{"title":"Fluorescence Intensity","titleFontSize":17.5,"titleFontWeight":"bold","titlePadding":8,"offset":18,"values":[0,127,254,381,508,635,762,889,1016],"labels":false,"tickSize":5,"tickWidth":1.5,"domainWidth":1.5}},
"detail":{"field":"s","type":"nominal"}}},
{"data":{"values":[{"s":"A","t":10,"v":820},{"s":"B","t":10,"v":650},{"s":"C","t":10,"v":503},{"s":"D","t":10,"v":276},{"s":"E","t":10,"v":111}]},
"mark":{"type":"text","align":"left","baseline":"middle","dx":4,"fontSize":16,"fontWeight":"bold","font":"Liberation Serif","color":"black"},
"encoding":{"x":{"field":"t","type":"quantitative"},"y":{"field":"v","type":"quantitative"},"text":{"field":"s","type":"nominal"}}}
]
},
{
"width":467,"height":317,
"title":{"text":"C","orient":"left","anchor":"end","frame":"group","angle":0,"align":"right","baseline":"alphabetic","offset":-0.3,"dy":44,"fontSize":62,"fontWeight":"bold","font":"Liberation Serif","color":"black"},
"data":{"name":"pc"},
"layer":[
{"mark":{"type":"bar","stroke":"black","strokeWidth":1.5},
"encoding":{
"x":{"field":"m","type":"ordinal","scale":{"range":[12.5,467],"paddingInner":0.425,"paddingOuter":0.06,"align":1},
"axis":{"title":"Minutes","titleFontSize":17,"titleFontWeight":"bold","titlePadding":5,"labelAngle":0,"ticks":false,"domainWidth":1.5,"labelFontSize":17,"labelPadding":5}},
"xOffset":{"field":"g","type":"nominal","sort":["JC-1 (n=29)","TMRM (n=8)"],"scale":{"paddingInner":0.3,"paddingOuter":0}},
"y":{"field":"val","type":"quantitative","scale":{"domain":[0,225],"nice":false},
"axis":{"title":"# of ΔΨₘ fluctuations","offset":-12.5,"titleFontSize":18,"titleFontWeight":"bold","titlePadding":5,"values":[0,25,50,75,100,125,150,175,200,225],"labelOverlap":false,"tickSize":4,"tickWidth":1.2,"labelFontSize":14,"labelPadding":1,"domainWidth":1.5}},
"color":{"field":"g","type":"nominal","scale":{"domain":["TMRM (n=8)","JC-1 (n=29)"],"range":["white","black"]},
"legend":{"title":null,"orient":"none","legendX":381,"legendY":30,"strokeColor":"black","padding":3,"symbolType":"M-1,-0.45H1V0.45H-1Z","symbolSize":324,"symbolStrokeColor":"black","symbolStrokeWidth":1.2,"symbolOpacity":1,"labelFontSize":11,"labelFontWeight":"bold","labelFont":"Liberation Serif","labelColor":"black","rowPadding":1,"labelOffset":2}}}},
{"mark":{"type":"rule","color":"black","strokeWidth":1},
"encoding":{"x":{"field":"m","type":"ordinal","axis":{"title":"Minutes","titleFontSize":17,"titleFontWeight":"bold","titlePadding":5,"labelAngle":0,"ticks":false,"domainWidth":1.5,"labelFontSize":17,"labelPadding":5}},"xOffset":{"field":"g","type":"nominal","sort":["JC-1 (n=29)","TMRM (n=8)"]},
"y":{"field":"val","type":"quantitative","axis":{"title":"# of ΔΨₘ fluctuations","offset":-12.5,"titleFontSize":18,"titleFontWeight":"bold","titlePadding":5,"values":[0,25,50,75,100,125,150,175,200,225],"labelOverlap":false,"tickSize":4,"tickWidth":1.2,"labelFontSize":14,"labelPadding":1,"domainWidth":1.5}},"y2":{"field":"upper"}}},
{"mark":{"type":"tick","orient":"horizontal","color":"black","size":7,"thickness":1.2},
"encoding":{"x":{"field":"m","type":"ordinal","axis":{"title":"Minutes","titleFontSize":17,"titleFontWeight":"bold","titlePadding":5,"labelAngle":0,"ticks":false,"domainWidth":1.5,"labelFontSize":17,"labelPadding":5}},"xOffset":{"field":"g","type":"nominal","sort":["JC-1 (n=29)","TMRM (n=8)"]},
"y":{"field":"upper","type":"quantitative","axis":{"title":"# of ΔΨₘ fluctuations","offset":-12.5,"titleFontSize":18,"titleFontWeight":"bold","titlePadding":5,"values":[0,25,50,75,100,125,150,175,200,225],"labelOverlap":false,"tickSize":4,"tickWidth":1.2,"labelFontSize":14,"labelPadding":1,"domainWidth":1.5}}}}
]
}
],
"resolve":{"scale":{"color":"independent"},"legend":{"color":"independent"}},
"columns":1,"align":"none","spacing":-4
}
